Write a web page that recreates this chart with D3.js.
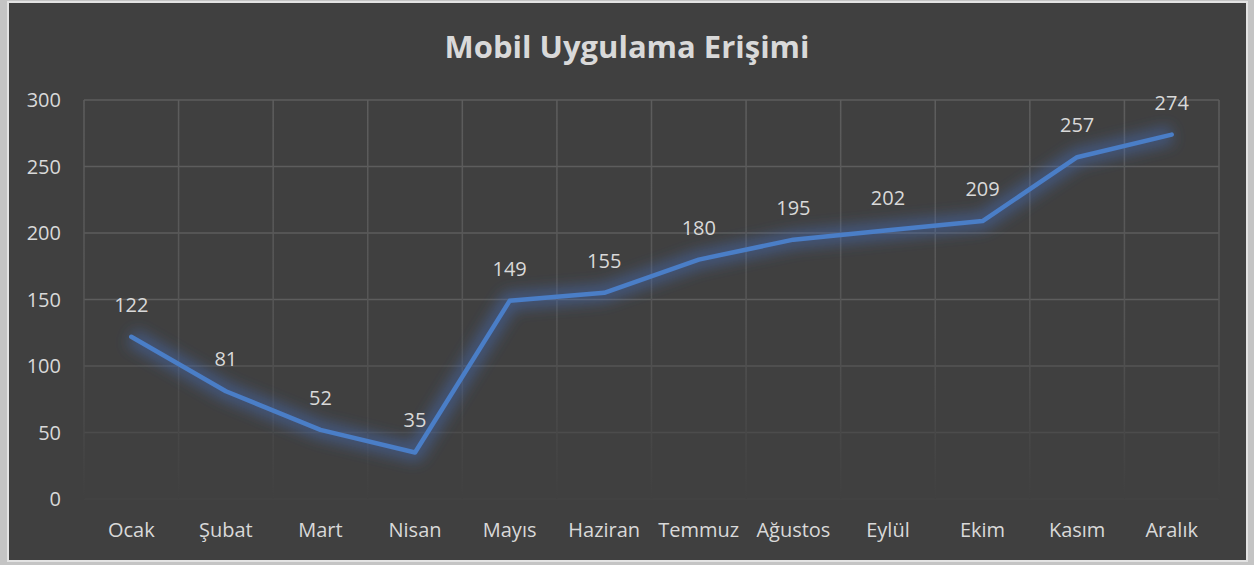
<!DOCTYPE html>
<meta charset="utf-8">
<script src="https://cdn.jsdelivr.net/npm/d3@7"></script>
<style>
body { margin: 0; background: #c4c4c4; }
text { font-family: "Open Sans", sans-serif; fill: #d9d9d9; }
</style>
<body>
<script>

var months = ["Ocak","Şubat","Mart","Nisan","Mayıs","Haziran","Temmuz","Ağustos","Eylül","Ekim","Kasım","Aralık"];
var values = [122, 81, 52, 35, 149, 155, 180, 195, 202, 209, 257, 274];
var yTicks = [0, 50, 100, 150, 200, 250, 300];
var title = "Mobil Uygulama Erişimi";

var width = 1254, height = 565;

var svg = d3.select("body").append("svg")
    .attr("width", width)
    .attr("height", height);

// chart frame
svg.append("rect")
    .attr("x", 8).attr("y", 2)
    .attr("width", 1239).attr("height", 559)
    .attr("fill", "#404040")
    .attr("stroke", "#e3e3e3")
    .attr("stroke-width", 2);

var pLeft = 84, pRight = 1219, pTop = 100, pBottom = 499;

var x = d3.scaleBand().domain(months).range([pLeft, pRight]);
var y = d3.scaleLinear().domain([0, 300]).range([pBottom, pTop]);

var defs = svg.append("defs");

// grid fades towards the bottom
var gv = defs.append("linearGradient")
    .attr("id", "gridFade")
    .attr("gradientUnits", "userSpaceOnUse")
    .attr("x1", 0).attr("y1", pTop).attr("x2", 0).attr("y2", pBottom);
gv.append("stop").attr("offset", "0%").attr("stop-color", "#5d5d5d");
gv.append("stop").attr("offset", "55%").attr("stop-color", "#555555");
gv.append("stop").attr("offset", "100%").attr("stop-color", "#404040");

var glow = defs.append("filter").attr("id", "glow")
    .attr("x", "-10%").attr("y", "-30%").attr("width", "120%").attr("height", "160%");
glow.append("feGaussianBlur").attr("stdDeviation", 7);

var grid = svg.append("g");

grid.selectAll(".hl")
    .data(yTicks)
    .enter().append("line")
    .attr("x1", pLeft).attr("x2", pRight)
    .attr("y1", function(d) { return y(d); })
    .attr("y2", function(d) { return y(d); })
    .attr("stroke", function(d) { return d3.interpolateRgb("#404040", "#5d5d5d")(Math.min(1, 0.1 + d / 160)); })
    .attr("stroke-width", 1.5);

var vx = months.map(function(m) { return x(m); }).concat([pRight]);
grid.selectAll(".vl")
    .data(vx)
    .enter().append("line")
    .attr("x1", function(d) { return d; })
    .attr("x2", function(d) { return d; })
    .attr("y1", pTop).attr("y2", pBottom)
    .attr("stroke", "url(#gridFade)")
    .attr("stroke-width", 1.5);

// y axis labels
svg.selectAll(".yl")
    .data(yTicks)
    .enter().append("text")
    .attr("x", 61)
    .attr("y", function(d) { return y(d); })
    .attr("dy", "0.35em")
    .attr("text-anchor", "end")
    .style("font-size", "20px")
    .text(function(d) { return d; });

// x axis labels
svg.selectAll(".xl")
    .data(months)
    .enter().append("text")
    .attr("x", function(d) { return x(d) + x.bandwidth() / 2; })
    .attr("y", 530)
    .attr("dy", "0.35em")
    .attr("text-anchor", "middle")
    .style("font-size", "20px")
    .text(function(d) { return d; });

// title
svg.append("text")
    .attr("x", 627)
    .attr("y", 47)
    .attr("dy", "0.35em")
    .attr("text-anchor", "middle")
    .style("font-size", "31px")
    .style("font-weight", "bold")
    .text(title);

var line = d3.line()
    .x(function(d, i) { return x(months[i]) + x.bandwidth() / 2; })
    .y(function(d) { return y(d); });

svg.append("path")
    .datum(values)
    .attr("d", line)
    .attr("fill", "none")
    .attr("stroke", "#4472c4")
    .attr("stroke-opacity", 0.45)
    .attr("stroke-width", 18)
    .attr("stroke-linejoin", "round")
    .attr("filter", "url(#glow)");

svg.append("path")
    .datum(values)
    .attr("d", line)
    .attr("fill", "none")
    .attr("stroke", "#4a7ec7")
    .attr("stroke-width", 4.5)
    .attr("stroke-linejoin", "round")
    .attr("stroke-linecap", "round");

// data labels
svg.selectAll(".dl")
    .data(values)
    .enter().append("text")
    .attr("x", function(d, i) { return x(months[i]) + x.bandwidth() / 2; })
    .attr("y", function(d) { return y(d) - 32; })
    .attr("dy", "0.35em")
    .attr("text-anchor", "middle")
    .style("font-size", "20px")
    .text(function(d) { return d; });

</script>
</body>
